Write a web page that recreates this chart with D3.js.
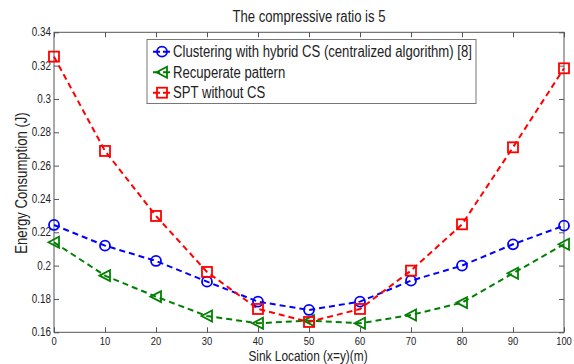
<!DOCTYPE html>
<html><head><meta charset="utf-8">
<script src="https://cdn.jsdelivr.net/npm/d3@7"></script>
<style>body{margin:0;background:#fff}svg{display:block}text{font-family:"Liberation Sans",Arial,sans-serif;fill:#222}</style>
</head><body>
<svg id="c" width="574" height="364"></svg>
<script>
const xValues = [0,10,20,30,40,50,60,70,80,90,100];
const clustering = [0.2244,0.212,0.2028,0.1904,0.1784,0.1734,0.1784,0.191,0.200,0.2128,0.224];
const recuperate = [0.214,0.194,0.1814,0.1698,0.1654,0.1670,0.1654,0.1704,0.1778,0.1954,0.2128];
const spt = [0.3254,0.2688,0.2298,0.1962,0.174,0.1662,0.174,0.197,0.2248,0.271,0.3184];
const xTicks = [0,10,20,30,40,50,60,70,80,90,100];
const yTicks = [0.16,0.18,0.2,0.22,0.24,0.26,0.28,0.3,0.32,0.34];
const yTickLabels = ["0.16","0.18","0.2","0.22","0.24","0.26","0.28","0.3","0.32","0.34"];
const seriesNames = ["Clustering with hybrid CS (centralized algorithm) [8]","Recuperate pattern","SPT without CS"];
const title = "The compressive ratio is 5";
const xLabel = "Sink Location (x=y)(m)";
const yLabel = "Energy Consumption (J)";

const svg = d3.select("#c");
const L=54,R=564,T=32.3,B=332.3;
const sx = 0.82;
const x = d3.scaleLinear().domain([0,100]).range([L,R]);
const y = d3.scaleLinear().domain([0.16,0.34]).range([B,T]);
const axisColor="#555";

function txt(tx,ty,s,size,anchor,rot){
  const g = svg.append("g").attr("transform",`translate(${tx},${ty})${rot?` rotate(${rot})`:""} scale(${sx},1)`);
  g.append("text").attr("text-anchor",anchor).attr("font-size",size).text(s);
}

svg.append("rect").attr("x",L).attr("y",T).attr("width",R-L).attr("height",B-T)
  .attr("fill","#fff").attr("stroke",axisColor).attr("stroke-width",1);

const tl=5;
const gxB = svg.append("g").attr("transform",`translate(0,${B})`)
  .call(d3.axisBottom(x).tickValues(xTicks).tickSizeInner(-tl).tickSizeOuter(0).tickFormat(""));
const gxT = svg.append("g").attr("transform",`translate(0,${T})`)
  .call(d3.axisTop(x).tickValues(xTicks).tickSizeInner(-tl).tickSizeOuter(0).tickFormat(""));
const gyL = svg.append("g").attr("transform",`translate(${L},0)`)
  .call(d3.axisLeft(y).tickValues(yTicks).tickSizeInner(-tl).tickSizeOuter(0).tickFormat(""));
const gyR = svg.append("g").attr("transform",`translate(${R},0)`)
  .call(d3.axisRight(y).tickValues(yTicks).tickSizeInner(-tl).tickSizeOuter(0).tickFormat(""));
[gxB,gxT,gyL,gyR].forEach(g=>{g.select(".domain").remove();g.selectAll("line").attr("stroke",axisColor);});

xTicks.forEach(v=>txt(x(v),345,String(v),11.5,"middle"));
yTicks.forEach((v,i)=>txt(L-3,y(v)+4,yTickLabels[i],12,"end"));

txt((L+R)/2,22,title,16,"middle");
txt(308,361,xLabel,14.5,"middle");
txt(27,183,yLabel,16,"middle",-90);

const series=[
  {vals:clustering,color:"#0000ff",marker:"circle",dash:"6,4"},
  {vals:recuperate,color:"#008000",marker:"tri",dash:"6,4"},
  {vals:spt,color:"#ff0000",marker:"square",dash:"6,4"}
];
function marker(g,type,cx,cy,color){
  if(type==="circle") g.append("circle").attr("cx",cx).attr("cy",cy).attr("r",5).attr("fill","none").attr("stroke",color).attr("stroke-width",1.8);
  else if(type==="square") g.append("rect").attr("x",cx-5).attr("y",cy-5).attr("width",10).attr("height",10).attr("fill","none").attr("stroke",color).attr("stroke-width",1.8);
  else g.append("path").attr("d",`M${cx-5.5},${cy}L${cx+5},${cy-5.5}L${cx+5},${cy+5.5}Z`).attr("fill","none").attr("stroke",color).attr("stroke-width",1.8);
}
const line=d3.line().x((d,i)=>x(xValues[i])).y(d=>y(d));
series.forEach(s=>{
  svg.append("path").datum(s.vals).attr("d",line).attr("fill","none").attr("stroke",s.color)
    .attr("stroke-width",2).attr("stroke-dasharray",s.dash);
});
series.forEach(s=>{
  const g=svg.append("g");
  s.vals.forEach((v,i)=>marker(g,s.marker,x(xValues[i]),y(v),s.color));
});

const lg=svg.append("g");
lg.append("rect").attr("x",147).attr("y",39.5).attr("width",329).attr("height",64)
  .attr("fill","#fff").attr("stroke","#777").attr("stroke-width",1);
series.forEach((s,i)=>{
  const cy=51.7+i*20.5;
  lg.append("line").attr("x1",153).attr("x2",172).attr("y1",cy).attr("y2",cy)
    .attr("stroke",s.color).attr("stroke-width",2).attr("stroke-dasharray","7,3");
  marker(lg,s.marker,162,cy,s.color);
  txt(173,cy+5.5,seriesNames[i],16,"start");
});
</script>
</body></html>
